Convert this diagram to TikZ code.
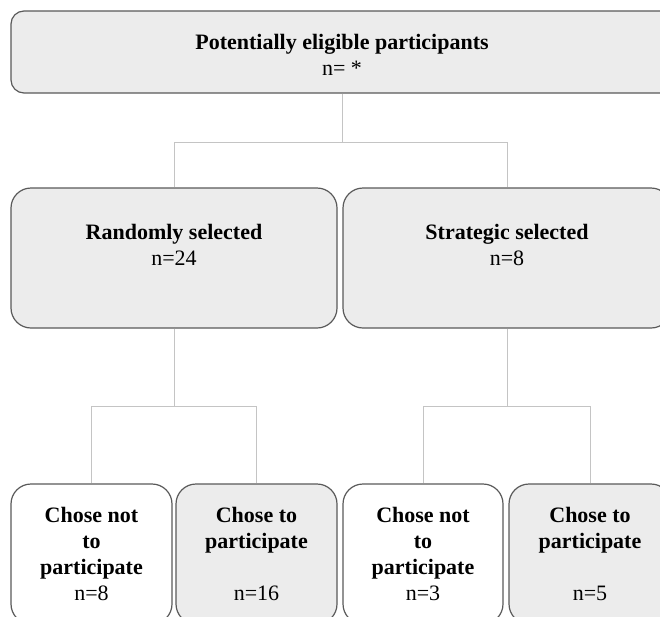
\documentclass[tikz,border=0pt]{standalone}
\usepackage{fontspec}
\setmainfont{Liberation Serif}
\definecolor{boxline}{HTML}{5A5A5A}
\definecolor{boxfill}{HTML}{ECECEC}
\definecolor{conn}{HTML}{C4C4C4}
\begin{document}
\begin{tikzpicture}[x=1pt,y=-1pt,
  gbox/.style={draw=boxline, line width=1.2pt, fill=boxfill, inner sep=0pt, rounded corners=20pt},
  wbox/.style={gbox, fill=white},
  txt/.style={font=\fontsize{22}{26}\selectfont, align=center, inner sep=0pt, anchor=north},
  link/.style={draw=conn, line width=1pt}]
\useasboundingbox (0,0) rectangle (660,616);
\clip (0,0) rectangle (660,616);
\fill[white] (0,0) rectangle (660,616);
% boxes
\node[gbox, rounded corners=13pt, minimum width=662pt, minimum height=82pt] (top) at (342,52) {};
\node[gbox, minimum width=326pt, minimum height=140pt] (r) at (174,258) {};
\node[gbox, minimum width=328pt, minimum height=140pt] (s) at (507,258) {};
\node[wbox, minimum width=161pt, minimum height=140pt] (b1) at (91.5,554) {};
\node[gbox, minimum width=161pt, minimum height=140pt] (b2) at (256.5,554) {};
\node[wbox, minimum width=160pt, minimum height=140pt] (b3) at (423,554) {};
\node[gbox, minimum width=162pt, minimum height=140pt] (b4) at (590,554) {};
% texts
\node[txt] (ttop) at (342,30.8) {\strut\textbf{Potentially eligible participants}\\n= *};
\node[txt] (tr) at (174,220.8) {\strut\textbf{Randomly selected}\\n=24};
\node[txt] (ts) at (507,220.8) {\strut\textbf{Strategic selected}\\n=8};
\node[txt] (t1) at (91.5,503.8) {\strut\textbf{Chose not}\\\textbf{to}\\\textbf{participate}\\n=8};
\node[txt] (t2) at (256.5,503.8) {\strut\textbf{Chose to}\\\textbf{participate}\\\strut\\n=16};
\node[txt] (t3) at (423,503.8) {\strut\textbf{Chose not}\\\textbf{to}\\\textbf{participate}\\n=3};
\node[txt] (t4) at (590,503.8) {\strut\textbf{Chose to}\\\textbf{participate}\\\strut\\n=5};
% connectors
\coordinate (j0) at (342,142);
\coordinate (j1) at (174,406);
\coordinate (j2) at (507,406);
\draw[link] (top.south) -- (j0);
\draw[link] (j0) -| (r.north);
\draw[link] (j0) -| (s.north);
\draw[link] (r.south) -- (j1);
\draw[link] (j1) -| (b1.north);
\draw[link] (j1) -| (b2.north);
\draw[link] (s.south) -- (j2);
\draw[link] (j2) -| (b3.north);
\draw[link] (j2) -| (b4.north);
\end{tikzpicture}
\end{document}
